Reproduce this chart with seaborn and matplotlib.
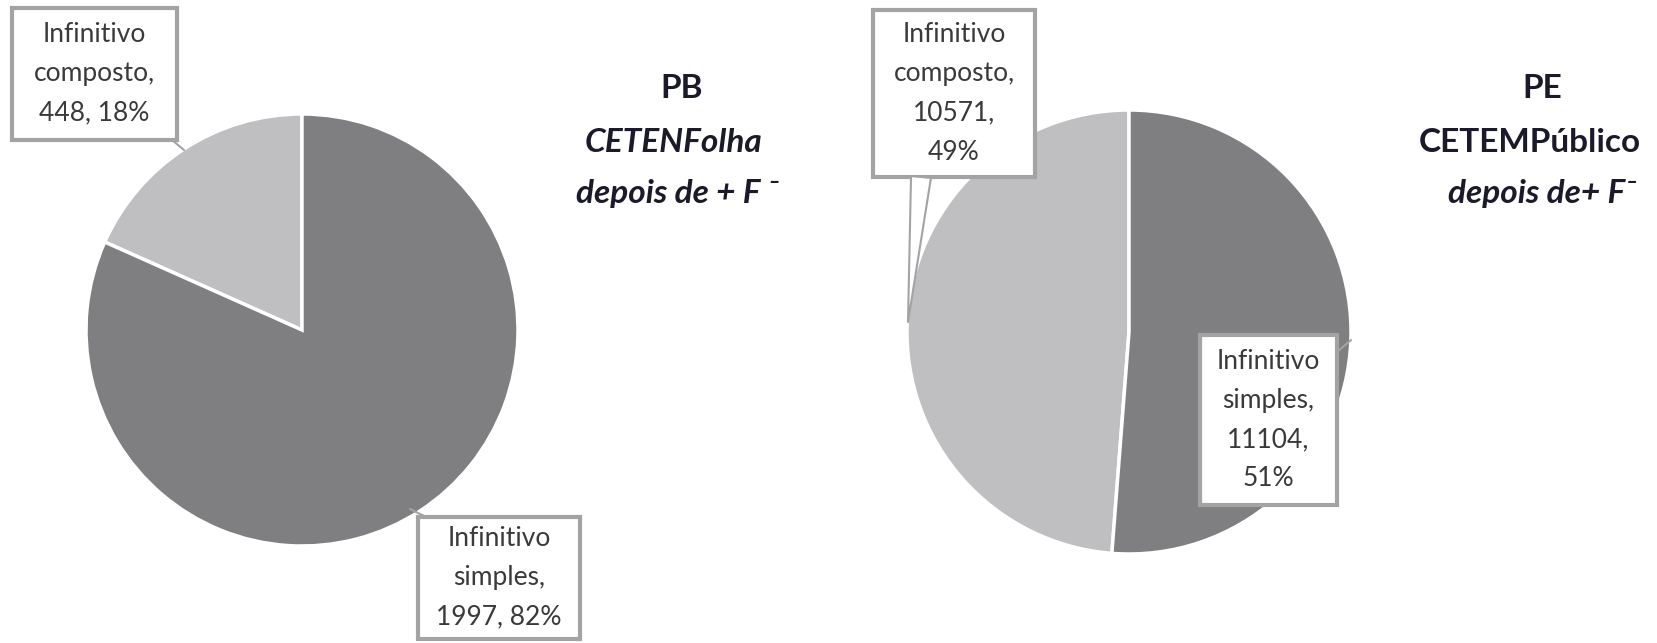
import matplotlib.pyplot as plt
import matplotlib.patches as mpatches
import seaborn as sns

sns.set_theme(style="white")
plt.rcParams['font.family'] = ['Lato', 'DejaVu Sans']

# Daten
categories = ["Infinitivo composto", "Infinitivo simples"]
pb_counts = [448, 1997]
pe_counts = [10571, 11104]

pb_title = ["PB", "CETENFolha", "depois de + F \u207b"]
pe_title = ["PE", "CETEMPúblico", "depois de+ F\u207b"]

pie_colors = ["#bfbfc1", "#7f7f81"]
box_edge = "#a3a3a3"
text_color = "#3a3a3a"

W, H = 1657, 643


def Y(y):
    # Pixel-y (von oben) -> Daten-y (von unten)
    return H - y


fig = plt.figure(figsize=(W / 100, H / 100), dpi=100)
ax = fig.add_axes([0, 0, 1, 1])


def label_box(txt, box, anchor, tip, arrow="-"):
    x0, y0, x1, y1 = box
    ax.add_patch(mpatches.Rectangle((x0, Y(y1)), x1 - x0, y1 - y0,
                                    fc="white", ec=box_edge, lw=3, zorder=3))
    ax.text((x0 + x1) / 2, Y((y0 + y1) / 2), txt, ha="center", va="center",
            fontsize=19, color=text_color, linespacing=1.7, zorder=5)
    ax.annotate("", xy=(tip[0], Y(tip[1])), xytext=(anchor[0], Y(anchor[1])),
                arrowprops=dict(arrowstyle=arrow, fc="white", ec=box_edge,
                                lw=1.5, shrinkA=0, shrinkB=0), zorder=4)


def draw_pie(counts, center, radius, label_texts, boxes, anchors, tips, arrows):
    ax.pie(counts, colors=pie_colors, startangle=90, counterclock=True,
           center=(center[0], Y(center[1])), radius=radius,
           explode=[0.025, 0],
           wedgeprops=dict(edgecolor="white", linewidth=2.5))
    for txt, box, anc, tip, arr in zip(label_texts, boxes, anchors, tips, arrows):
        label_box(txt, box, anc, tip, arr)


def make_labels(counts, breaks):
    total = sum(counts)
    out = []
    for cat, c, br in zip(categories, counts, breaks):
        first, second = cat.split(" ")
        pct = round(100 * c / total)
        sep = "\n" if br else " "
        out.append(f"{first}\n{second},\n{c},{sep}{pct}%")
    return out


pb_labels = make_labels(pb_counts, [False, False])
pe_labels = make_labels(pe_counts, [True, True])

draw_pie(pb_counts, (302, 330), 216, pb_labels,
         [(12, 8, 177, 140), (418, 517, 580, 639)],
         [(172, 140), (426, 517)], [(184, 150), (410, 509)], ["-", "-"])
draw_pie(pe_counts, (1129, 332), 222, pe_labels,
         [(873, 10, 1035, 177), (1200, 335, 1337, 505)],
         [(921, 177), (1337, 352)], [(908, 322), (1351, 340)],
         ["wedge,tail_width=1.2", "-"])

ax.set_xlim(0, W)
ax.set_ylim(0, H)
ax.set_aspect("equal")
ax.axis("off")

# Titel
title_y = [88, 143, 194]
pb_x = [682, 674, 677]
pe_x = [1542, 1530, 1542]
for i in range(3):
    pb_style = "normal" if i == 0 else "italic"
    ax.text(pb_x[i], Y(title_y[i]), pb_title[i], ha="center", va="center",
            fontsize=24, fontstyle=pb_style, fontweight="bold",
            color="#1a1a2a")
    pe_style = "italic" if i == 2 else "normal"
    ax.text(pe_x[i], Y(title_y[i]), pe_title[i], ha="center", va="center",
            fontsize=24, fontstyle=pe_style, fontweight="bold",
            color="#1a1a2a")

plt.savefig("out.png", dpi=100)
plt.close()
